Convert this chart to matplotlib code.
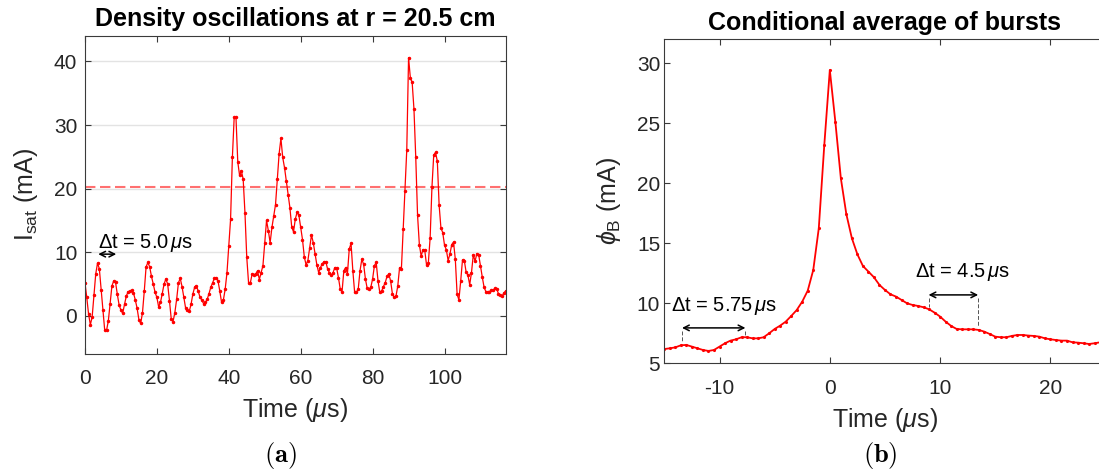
import numpy as np
import matplotlib
matplotlib.use("Agg")
import matplotlib.pyplot as plt

plt.rcParams['font.family'] = ['Liberation Sans', 'DejaVu Sans']
plt.rcParams['mathtext.fontset'] = 'custom'
plt.rcParams['mathtext.rm'] = 'Liberation Sans'
plt.rcParams['mathtext.it'] = 'Liberation Sans:italic'
plt.rcParams['mathtext.bf'] = 'Liberation Sans:bold'
plt.rcParams['axes.unicode_minus'] = False

# ---- (a) probe ion saturation current, sampled every 0.5 us ----
dt_a = 0.5
isat = [
    5.2, 2.9, 0.3, -1.4, -0.2, 3.2, 6.6, 8.3, 7.4, 4.1,
    0.9, -2.3, -2.3, -0.8, 1.9, 4.7, 5.5, 5.3, 3.4, 1.7,
    0.9, 0.4, 1.8, 3.1, 3.8, 3.9, 4.0, 3.6, 2.5, 1.2,
    -0.6, -1.2, 0.5, 3.9, 7.7, 8.4, 7.7, 6.2, 5.0, 3.7,
    2.9, 1.4, 2.1, 3.5, 5.0, 5.8, 5.0, 2.4, -0.5, -0.9,
    0.5, 2.6, 5.2, 5.9, 4.6, 2.9, 1.2, 0.9, 0.7, 1.8,
    3.4, 4.5, 4.7, 3.9, 2.9, 2.5, 1.9, 2.1, 2.6, 3.5,
    4.5, 5.2, 5.9, 6.0, 5.5, 3.9, 2.1, 2.5, 4.2, 6.8,
    11.0, 15.2, 24.9, 31.2, 31.2, 24.2, 22.1, 22.8, 21.5, 16.2,
    9.2, 5.2, 5.2, 6.6, 6.5, 6.6, 7.1, 5.7, 6.8, 7.9,
    11.5, 15.0, 13.4, 11.5, 13.9, 15.7, 17.5, 21.5, 25.5, 27.9,
    24.9, 23.3, 21.2, 19.0, 17.0, 14.0, 13.2, 15.2, 16.3, 15.8,
    13.9, 12.0, 9.3, 8.0, 8.7, 10.7, 12.7, 11.5, 9.7, 8.0,
    6.8, 7.6, 8.2, 8.5, 8.5, 7.3, 6.8, 6.4, 6.8, 7.6,
    7.5, 6.0, 4.2, 3.8, 7.1, 7.6, 6.6, 10.5, 11.4, 7.1,
    3.7, 3.7, 4.2, 7.1, 8.9, 8.1, 5.8, 4.3, 4.2, 4.5,
    5.8, 7.9, 8.4, 5.5, 3.7, 3.9, 4.6, 5.2, 6.2, 6.6,
    5.5, 3.5, 2.9, 3.1, 4.7, 7.6, 7.3, 13.6, 19.6, 26.1,
    40.6, 37.4, 36.7, 32.5, 24.9, 15.8, 11.2, 9.4, 10.4, 10.3,
    8.0, 8.3, 12.3, 20.2, 25.3, 25.7, 24.3, 17.4, 13.8, 13.1,
    11.1, 10.4, 8.7, 9.7, 11.2, 11.6, 8.9, 3.4, 2.5, 5.5,
    8.8, 8.7, 6.9, 6.4, 4.9, 6.8, 9.6, 8.6, 9.8, 9.6,
    7.8, 6.1, 4.5, 3.8, 3.7, 3.8, 4.0, 4.0, 4.3, 4.2,
    3.5, 3.3, 3.1, 3.6, 3.9,
]
threshold = 20.2
period_a = 5.0
period_a_start = 3.7

# ---- (b) conditionally averaged burst, t from -15 us in 0.5 us steps ----
t0_b = -15.0
dt_b = 0.5
phi_b = [
    6.19, 6.25, 6.33, 6.50, 6.53, 6.39, 6.25, 6.11, 6.03, 6.11,
    6.39, 6.67, 6.89, 7.00, 7.17, 7.17, 7.08, 7.08, 7.17, 7.50,
    7.86, 8.14, 8.47, 8.94, 9.44, 10.14, 11.06, 12.78, 16.25, 23.20,
    29.44, 25.14, 20.42, 17.42, 15.42, 14.08, 13.11, 12.64, 12.17, 11.53,
    11.11, 10.75, 10.56, 10.28, 10.00, 9.86, 9.78, 9.67, 9.50, 9.22,
    8.89, 8.47, 8.11, 7.86, 7.83, 7.83, 7.83, 7.78, 7.64, 7.44,
    7.22, 7.17, 7.17, 7.28, 7.36, 7.36, 7.31, 7.28, 7.22, 7.08,
    7.00, 6.94, 6.89, 6.89, 6.75, 6.72, 6.67, 6.61, 6.67, 6.75,
]
# marked intervals: (start, length) in us
period_b1 = (-13.4, 5.75)
period_b2 = (8.95, 4.5)

t_a = np.arange(len(isat)) * dt_a
t_b = t0_b + np.arange(len(phi_b)) * dt_b

AX_COL = '#3a3a3a'
TXT_COL = '#262626'

fig = plt.figure(figsize=(10.99, 4.72), dpi=100)
axa = fig.add_axes([0.0773, 0.25, 0.3828, 0.6737])
axb = fig.add_axes([0.6045, 0.2303, 0.4015, 0.6864])


def style(ax, xpad, ypad):
    for s in ax.spines.values():
        s.set_color(AX_COL)
        s.set_linewidth(0.8)
    ax.tick_params(direction='in', length=4, width=0.8, color=AX_COL,
                   labelcolor=TXT_COL, labelsize=15, top=True, right=True)
    ax.tick_params(axis='x', pad=xpad)
    ax.tick_params(axis='y', pad=ypad)


# (a)
axa.set_axisbelow(True)
axa.yaxis.grid(True, color='#e3e3e3', linewidth=1.0)
axa.axhline(threshold, color='#ff7070', linewidth=1.5, linestyle=(0, (5, 2.2)))
axa.plot(t_a, isat, color='#ff0000', linewidth=0.9, marker='.', markersize=3)
axa.set_xlim(0, 117)
axa.set_ylim(-6, 44)
axa.set_xticks([0, 20, 40, 60, 80, 100])
axa.set_yticks([0, 10, 20, 30, 40])
style(axa, 10.5, 5.5)
axa.set_title('Density oscillations at r = 20.5 cm', fontsize=18,
              fontweight='bold', pad=7)
axa.set_xlabel(r'Time ($\mu$s)', fontsize=18, color=TXT_COL, labelpad=6)
axa.set_ylabel(r'I$_{\mathrm{sat}}$ (mA)', fontsize=18, color=TXT_COL, labelpad=10)
axa.annotate('', xy=(period_a_start + period_a, 9.7), xytext=(period_a_start, 9.7),
             arrowprops=dict(arrowstyle='<->', color='black', lw=1.1,
                             shrinkA=0, shrinkB=0, mutation_scale=10))
axa.text(period_a_start, 11.4, r'$\Delta$t = %.1f$\,\mu$s' % period_a,
         fontsize=14.5, ha='left', va='center', color='black')

# (b)
axb.plot(t_b, phi_b, color='#ff0000', linewidth=1.3, marker='.', markersize=2.5)
axb.set_xlim(-15, 25)
axb.set_ylim(5, 32)
axb.set_xticks([-10, 0, 10, 20])
axb.set_yticks([5, 10, 15, 20, 25, 30])
style(axb, 11, 3)
axb.set_title('Conditional average of bursts', fontsize=18,
              fontweight='bold', pad=7)
axb.set_xlabel(r'Time ($\mu$s)', fontsize=18, color=TXT_COL, labelpad=6)
axb.set_ylabel(r'$\phi_{\mathrm{B}}$ (mA)', fontsize=18, color=TXT_COL, labelpad=10)


def interval(ax, start, length, y_arrow, y_low_a, y_low_b, label, tx, ty):
    ax.annotate('', xy=(start + length, y_arrow), xytext=(start, y_arrow),
                arrowprops=dict(arrowstyle='<->', color='black', lw=1.1,
                                shrinkA=0, shrinkB=0, mutation_scale=10))
    ax.plot([start, start], [y_arrow - 0.25, y_low_a], color='#555555',
            lw=0.7, ls=(0, (4, 2)))
    ax.plot([start + length] * 2, [y_arrow - 0.25, y_low_b], color='#555555',
            lw=0.7, ls=(0, (4, 2)))
    ax.text(tx, ty, label, fontsize=14.5, ha='left', va='center', color='black')


interval(axb, period_b1[0], period_b1[1], 7.95, 6.75, 7.2,
         r'$\Delta$t = %.2f$\,\mu$s' % period_b1[1], -14.4, 9.8)
interval(axb, period_b2[0], period_b2[1], 10.7, 9.7, 8.15,
         r'$\Delta$t = %.1f$\,\mu$s' % period_b2[1], 7.7, 12.6)

# sub-figure captions
fig.text(0.2548, 0.036, r'$\mathbf{(a)}$', fontsize=19, ha='center', va='center',
         math_fontfamily='cm')
fig.text(0.8007, 0.036, r'$\mathbf{(b)}$', fontsize=19, ha='center', va='center',
         math_fontfamily='cm')

fig.savefig('out.png', dpi=100)
